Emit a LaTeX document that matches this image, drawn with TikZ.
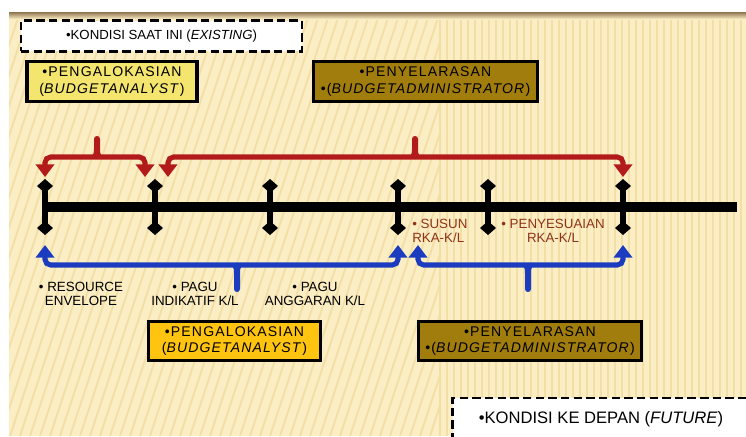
\documentclass[tikz,border=0pt]{standalone}
\usepackage{fontspec}
\setmainfont{Liberation Sans}
\newfontfamily\vakfont[LetterSpace=8]{Liberation Sans}
\usetikzlibrary{arrows.meta,calc}

\definecolor{creme}{HTML}{FBEEC4}
\definecolor{streepkleur}{HTML}{F3DFA6}
\definecolor{schaduw}{HTML}{8F7350}
\definecolor{lichtgeel}{HTML}{F3E56E}
\definecolor{goud}{HTML}{FFC40F}
\definecolor{olijf}{HTML}{A17D0E}
\definecolor{rood}{HTML}{B31A1A}
\definecolor{blauw}{HTML}{1C3CC0}
\definecolor{bruintekst}{HTML}{8E3318}

% uitstulping midden op een accolade: kleur, x, y, richting, lengte
\newcommand{\knobbel}[5]{
  \fill[#1] ({#2-10},#3) .. controls ({#2-3.5},#3) and ({#2-3},{#3+3*#4}) .. ({#2-3},{#3+8*#4})
    -- ({#2-3},{#3+(#5-3)*#4}) .. controls ({#2-3},{#3+(#5+1)*#4}) and ({#2+3},{#3+(#5+1)*#4}) .. ({#2+3},{#3+(#5-3)*#4})
    -- ({#2+3},{#3+8*#4}) .. controls ({#2+3},{#3+3*#4}) and ({#2+3.5},#3) .. ({#2+10},#3) -- cycle;
}

\tikzset{
  vak/.style={draw=black, line width=2.3pt, align=center, inner sep=0pt,
    minimum height=28pt, font=\vakfont\fontsize{10}{11.8}\selectfont},
  geelvak/.style={vak, fill=lichtgeel, minimum width=121pt},
  goudvak/.style={vak, fill=goud, minimum width=122pt},
  olijfvak/.style={vak, fill=olijf, minimum width=159pt},
  stippelvak/.style={draw=black, fill=white, line width=1.8pt,
    dash pattern=on 6pt off 3pt, minimum height=22pt, inner sep=0pt},
  label/.style={align=center, font=\fontsize{9.5}{10}\selectfont, inner sep=0pt},
  roodpijl/.style={rood, line width=3.6pt, rounded corners=4pt,
    -{Triangle[width=13pt,length=9pt]}},
  blauwpijl/.style={blauw, line width=3.6pt, rounded corners=4pt,
    -{Triangle[width=13pt,length=9pt]}},
}

\begin{document}
\begin{tikzpicture}[x=0.25mm, y=-0.25mm]
\useasboundingbox (0,0) rectangle (746,436);
\clip (0,0) rectangle (746,436);

% achtergrond van de dia
\fill[creme] (9,12) rectangle (746,436);
\begin{scope}
  \clip (9,12) rectangle (440,436);
  \foreach \s in {-120,-110,...,440}
    \draw[streepkleur, line width=1.3pt] (\s,436) -- (\s+140,12);
\end{scope}
\foreach \s in {440,447,...,746}
  \draw[streepkleur, line width=1.1pt] (\s,12) -- (\s,436);
\shade[top color=schaduw, bottom color=creme] (9,12) rectangle (746,19);

\node[stippelvak, minimum width=200pt, font=\fontsize{9.4}{11}\selectfont] (nu) at (161.5,36)
  {\textbullet KONDISI SAAT INI (\textit{EXISTING})};
\node[stippelvak, minimum width=211pt, minimum height=30pt, font=\fontsize{11.8}{13}\selectfont]
  (depan) at (601,419) {\textbullet KONDISI KE DEPAN (\textit{FUTURE})};

\node[geelvak] (alokasi1) at (112,81.5)
  {\textbullet PENGALOKASIAN\\(\textit{BUDGETANALYST})};
\node[olijfvak] (selaras1) at (425.5,81.5)
  {\textbullet PENYELARASAN\\\textbullet(\textit{BUDGETADMINISTRATOR})};
\node[goudvak] (alokasi2) at (234.5,341)
  {\textbullet PENGALOKASIAN\\(\textit{BUDGETANALYST})};
\node[olijfvak] (selaras2) at (530,341)
  {\textbullet PENYELARASAN\\\textbullet(\textit{BUDGETADMINISTRATOR})};

% tijdlijn
\draw[line width=7.2pt] (45,207) -- (737,207);
\foreach \x [count=\i] in {45,155,270,398,488,623} {
  \coordinate (t\i) at (\x,207);
  \draw[line width=4pt] (\x,186) -- (\x,228);
  \fill (\x,186) +(-8,0) -- +(0,-7) -- +(8,0) -- +(0,7) -- cycle;
  \fill (\x,228) +(-8,0) -- +(0,-7) -- +(8,0) -- +(0,7) -- cycle;
}

\node[label, anchor=north] (envelope) at (81,282) {\textbullet\ RESOURCE\\ENVELOPE};
\node[label, anchor=north] (indikatif) at (195,282) {\textbullet\ PAGU\\INDIKATIF K/L};
\node[label, anchor=north] (anggaran) at (315,282) {\textbullet\ PAGU\\ANGGARAN K/L};
\node[label, align=left, anchor=north west, text=bruintekst] (susun) at (412,219)
  {\textbullet\ SUSUN\\RKA-K/L};
\node[label, anchor=north, text=bruintekst] (sesuai) at (553,219)
  {\textbullet\ PENYESUAIAN\\RKA-K/L};

% rode accolades boven
\draw[roodpijl] (97,157) -| ($(t1)+(0,-30)$);
\draw[roodpijl] (97,157) -| ($(t2)+(-10,-30)$);
\knobbel{rood}{97}{157}{-1}{21}
\draw[roodpijl] (415,157) -| ($(t2)+(13,-30)$);
\draw[roodpijl] (415,157) -| ($(t6)+(0,-30)$);
\knobbel{rood}{415}{157}{-1}{21}

% blauwe accolades onder
\draw[blauwpijl] (237,265) -| ($(t1)+(0,38)$);
\draw[blauwpijl] (237,265) -| ($(t4)+(0,38)$);
\knobbel{blauw}{237}{265}{1}{27}
\draw[blauwpijl] (528,265) -| ($(t4)+(20,38)$);
\draw[blauwpijl] (528,265) -| ($(t6)+(0,38)$);
\knobbel{blauw}{528}{265}{1}{27}
\end{tikzpicture}
\end{document}
